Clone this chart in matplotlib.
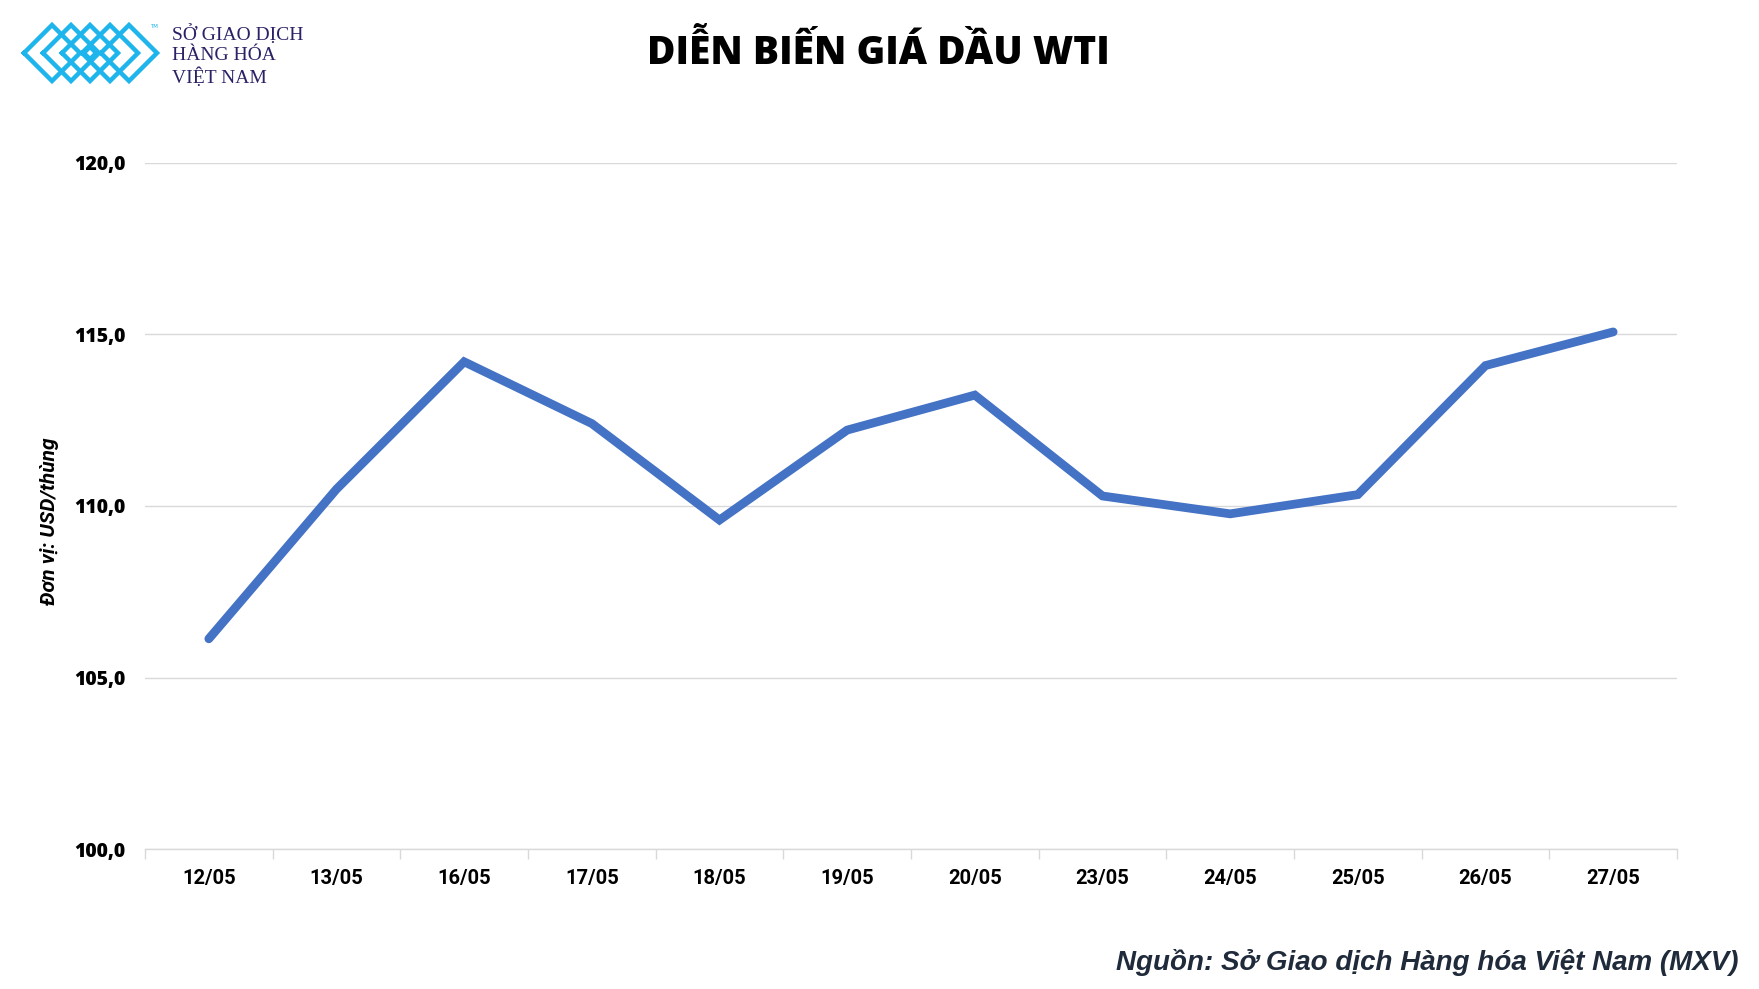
import matplotlib
matplotlib.use("Agg")
import matplotlib.pyplot as plt
from matplotlib.ticker import FixedLocator, NullFormatter

# ---- data ----
dates = ["12/05", "13/05", "16/05", "17/05", "18/05", "19/05",
         "20/05", "23/05", "24/05", "25/05", "26/05", "27/05"]
prices = [106.13, 110.49, 114.20, 112.40, 109.59, 112.21,
          113.23, 110.29, 109.77, 110.33, 114.09, 115.07]
y_ticks = [100.0, 105.0, 110.0, 115.0, 120.0]
y_tick_labels = ["100,0", "105,0", "110,0", "115,0", "120,0"]

title = "DIỄN BIẾN GIÁ DẦU WTI"
y_label = "Đơn vị: USD/thùng"
source = "Nguồn: Sở Giao dịch Hàng hóa Việt Nam (MXV)"
logo_lines = ["SỞ GIAO DỊCH", "HÀNG HÓA", "VIỆT NAM"]

W, H = 1759, 989
fig = plt.figure(figsize=(W / 100, H / 100), dpi=100)

# main axes
L, R, T, B = 145, 1677, 162.7, 849.2
ax = fig.add_axes([L / W, 1 - B / H, (R - L) / W, (B - T) / H])
x = list(range(len(dates)))
ax.plot(x, prices, color="#4472C4", lw=6.3, solid_capstyle="round",
        solid_joinstyle="miter", zorder=3)
ax.set_xlim(-0.5, len(dates) - 0.5)
ax.set_ylim(100, 120)
ax.set_yticks(y_ticks)
ax.set_yticklabels(y_tick_labels, fontfamily="Open Sans", fontweight=800,
                   fontsize=14)
ax.set_xticks(x)
ax.set_xticklabels(dates, fontfamily="Roboto", fontweight="bold", fontsize=14.5)
ax.xaxis.set_minor_locator(FixedLocator([i - 0.5 for i in range(len(dates) + 1)]))
ax.xaxis.set_minor_formatter(NullFormatter())
ax.tick_params(axis="x", which="major", length=0, pad=14)
ax.tick_params(axis="x", which="minor", length=7, color="#D9D9D9", width=1)
ax.tick_params(axis="y", length=0, pad=14)
ax.grid(axis="y", color="#D9D9D9", lw=1)
ax.set_axisbelow(True)
for s in ["top", "right", "left"]:
    ax.spines[s].set_visible(False)
ax.spines["bottom"].set_color("#D9D9D9")
ax.spines["bottom"].set_linewidth(1)

fig.text(50 / W, 1 - 521 / H, y_label, rotation=90, ha="center", va="center",
         fontfamily="Roboto", fontweight="bold",
         fontstyle="italic", fontsize=15)

fig.text(878 / W, 1 - 53 / H, title, ha="center", va="center",
         fontfamily="Open Sans", fontweight=800, fontsize=28)

fig.text(1739 / W, 1 - 962 / H, source, ha="right", va="center",
         fontfamily="Liberation Sans", fontweight="bold", fontstyle="italic",
         fontsize=20, color="#1F2A3A")

# ---- logo ----
lax = fig.add_axes([0, 0, 1, 1], zorder=-1)
lax.set_xlim(0, W)
lax.set_ylim(H, 0)
lax.axis("off")
logo_col = "#1EB4EC"
hs = 28
for cx in [52, 71, 90, 110, 129]:
    xs = [cx - hs, cx, cx + hs, cx, cx - hs]
    ys = [53, 53 - hs, 53, 53 + hs, 53]
    lax.plot(xs, ys, color=logo_col, lw=3.2, solid_joinstyle="miter")
lax.plot([90 - 6, 90, 90 + 6, 90, 90 - 6], [53, 47, 53, 59, 53],
         color=logo_col, lw=3)
lax.text(150, 27, "TM", fontsize=4, color=logo_col, ha="left", va="center")
for i, t in enumerate(logo_lines):
    lax.text(172, 34 + i * 21.5, t, fontfamily="Liberation Serif", fontsize=14,
             color="#2A2266", ha="left", va="center")

fig.savefig("out.png", dpi=100, facecolor="white")
